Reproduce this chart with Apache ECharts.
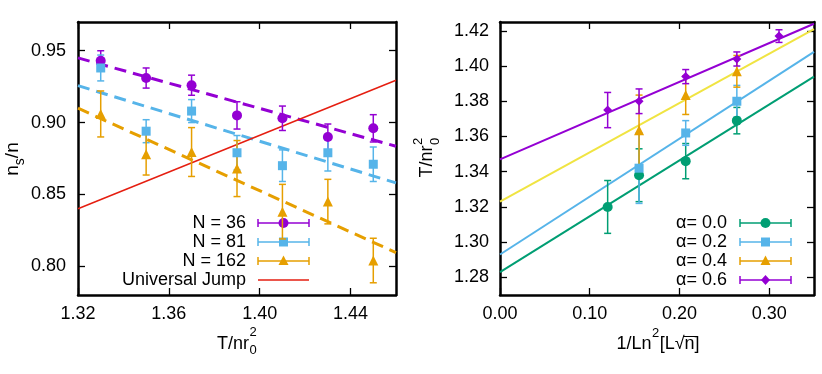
<!DOCTYPE html>
<html>
<head>
<meta charset="utf-8">
<script src="https://cdn.jsdelivr.net/npm/echarts@6/dist/echarts.min.js"></script>
<style>
  html, body { margin: 0; padding: 0; background: #fff; }
  #chart { width: 822px; height: 374px; }
</style>
</head>
<body>
<div id="chart"></div>
<script>
// left panel: superfluid fraction vs temperature
var tempX = [1.33, 1.35, 1.37, 1.39, 1.41, 1.43, 1.45];
var ns36 = [0.943, 0.931, 0.926, 0.905, 0.903, 0.890, 0.896];
var err36 = [0.007, 0.007, 0.007, 0.0095, 0.0085, 0.009, 0.0095];
var ns81 = [0.938, 0.894, 0.908, 0.879, 0.870, 0.879, 0.871];
var err81 = [0.009, 0.008, 0.008, 0.012, 0.011, 0.0127, 0.012];
var ns162 = [0.906, 0.878, 0.8795, 0.868, 0.838, 0.845, 0.804];
var err162 = [0.016, 0.0145, 0.017, 0.0195, 0.019, 0.0155, 0.0155];
var fit36 = [[1.32, 0.945], [1.46, 0.8835]];
var fit81 = [[1.32, 0.9257], [1.46, 0.858]];
var fit162 = [[1.32, 0.910], [1.46, 0.8095]];
var jumpLine = [[1.32, 0.840], [1.46, 0.9295]];
var leftXTicks = [1.32, 1.36, 1.40, 1.44];
var leftYTicks = [0.80, 0.85, 0.90, 0.95];

// right panel: T_c(L) vs 1/ln^2(L sqrt n)
var invX00 = [0.12, 0.155, 0.207, 0.264];
var tc00 = [1.320, 1.338, 1.346, 1.369];
var ec00 = [0.015, 0.015, 0.010, 0.0075];
var invX02 = [0.155, 0.207, 0.264];
var tc02 = [1.342, 1.362, 1.380];
var ec02 = [0.02, 0.007, 0.009];
var invX04 = [0.155, 0.207, 0.264];
var tc04 = [1.3635, 1.3835, 1.397];
var ec04 = [0.02, 0.011, 0.009];
var invX06 = [0.12, 0.155, 0.207, 0.264, 0.311];
var tc06 = [1.375, 1.380, 1.394, 1.404, 1.417];
var ec06 = [0.010, 0.007, 0.004, 0.004, 0.0036];
var fitA00 = [[0, 1.283], [0.35, 1.394]];
var fitA02 = [[0, 1.293], [0.35, 1.408]];
var fitA04 = [[0, 1.323], [0.35, 1.421]];
var fitA06 = [[0, 1.347], [0.35, 1.424]];
var rightXTicks = [0.00, 0.10, 0.20, 0.30];
var rightYTicks = [1.28, 1.30, 1.32, 1.34, 1.36, 1.38, 1.40, 1.42];

var PURPLE = '#9400d3', BLUE = '#56b4e9', ORANGE = '#e69f00',
    GREEN = '#009e73', YELLOW = '#f0e442', RED = '#e51e10';
var FONT = '"Liberation Sans", Arial, sans-serif';

var ctx = document.createElement('canvas').getContext('2d');
function tw(s, size) {
  ctx.font = size + 'px ' + FONT;
  return ctx.measureText(s).width;
}

function axis(grid, pos, min, max, ticks, labels, margin) {
  return {
    type: 'value', gridIndex: grid, position: pos, min: min, max: max,
    splitLine: { show: false },
    axisLine: { show: true, onZero: false, lineStyle: { color: '#000', width: 2.5 } },
    axisTick: { show: true, inside: true, length: 7, customValues: ticks,
      lineStyle: { color: '#000', width: 1.3 } },
    axisLabel: { show: labels, customValues: ticks, margin: margin,
      color: '#000', fontSize: 18, fontFamily: FONT,
      formatter: function (v) { return v.toFixed(2); } }
  };
}

function points(xi, xs, ys, symbol, size, color) {
  return {
    type: 'scatter', xAxisIndex: xi, yAxisIndex: xi, z: 4,
    symbol: symbol, symbolSize: size,
    itemStyle: { color: color, opacity: 1 },
    data: xs.map(function (x, i) { return [x, ys[i]]; })
  };
}

function errorBars(xi, xs, ys, es, color) {
  return {
    type: 'custom', xAxisIndex: xi, yAxisIndex: xi, z: 3,
    encode: { x: 0, y: [1, 2] },
    data: xs.map(function (x, i) { return [x, ys[i] - es[i], ys[i] + es[i]]; }),
    renderItem: function (params, api) {
      var lo = api.coord([api.value(0), api.value(1)]);
      var hi = api.coord([api.value(0), api.value(2)]);
      var st = { stroke: color, lineWidth: 1.5 };
      return { type: 'group', children: [
        { type: 'line', shape: { x1: lo[0], y1: lo[1], x2: hi[0], y2: hi[1] }, style: st },
        { type: 'line', shape: { x1: lo[0] - 3.5, y1: lo[1], x2: lo[0] + 3.5, y2: lo[1] }, style: st },
        { type: 'line', shape: { x1: hi[0] - 3.5, y1: hi[1], x2: hi[0] + 3.5, y2: hi[1] }, style: st }
      ]};
    }
  };
}

function fitLine(xi, data, color, width, dashed) {
  return {
    type: 'line', xAxisIndex: xi, yAxisIndex: xi, z: 2,
    data: data, symbol: 'none', silent: true,
    lineStyle: { color: color, width: width, type: dashed ? [12, 7] : 'solid' }
  };
}

// legend rows drawn like gnuplot's errorbar key
function markerShape(shape, cx, cy, color) {
  var st = { fill: color };
  if (shape === 'circle') return { type: 'circle', shape: { cx: cx, cy: cy, r: 5 }, style: st };
  if (shape === 'rect') return { type: 'rect', shape: { x: cx - 4.5, y: cy - 4.5, width: 9, height: 9 }, style: st };
  if (shape === 'triangle') return { type: 'polygon', shape: { points: [[cx, cy - 5.5], [cx + 5, cy + 4], [cx - 5, cy + 4]] }, style: st };
  return { type: 'polygon', shape: { points: [[cx, cy - 5], [cx + 4.5, cy], [cx, cy + 5], [cx - 4.5, cy]] }, style: st };
}

function legendRow(textRight, x0, x1, y, label, color, shape) {
  var items = [{ type: 'text', x: textRight, y: y,
    style: { text: label, font: '18px ' + FONT, fill: '#000', align: 'right', verticalAlign: 'middle' } }];
  var st = { stroke: color, lineWidth: 1.5 };
  items.push({ type: 'line', shape: { x1: x0, y1: y, x2: x1, y2: y }, style: st });
  if (shape) {
    items.push({ type: 'line', shape: { x1: x0, y1: y - 4, x2: x0, y2: y + 4 }, style: st });
    items.push({ type: 'line', shape: { x1: x1, y1: y - 4, x2: x1, y2: y + 4 }, style: st });
    items.push(markerShape(shape, (x0 + x1) / 2, y, color));
  }
  return items;
}

var graphics = [];
var rowsY = [223, 242, 261, 280];
[['N = 36', PURPLE, 'circle'], ['N = 81', BLUE, 'rect'], ['N = 162', ORANGE, 'triangle'],
 ['Universal Jump', RED, null]].forEach(function (r, i) {
  graphics = graphics.concat(legendRow(246, 258, 309, rowsY[i], r[0], r[1], r[2]));
});
[['\u03b1= 0.0', GREEN, 'circle'], ['\u03b1= 0.2', BLUE, 'rect'], ['\u03b1= 0.4', ORANGE, 'triangle'],
 ['\u03b1= 0.6', PURPLE, 'diamond']].forEach(function (r, i) {
  graphics = graphics.concat(legendRow(727, 740, 791, rowsY[i], r[0], r[1], r[2]));
});

function txt(x, y, s, size, align) {
  return { type: 'text', x: x, y: y,
    style: { text: s, font: size + 'px ' + FONT, fill: '#000', align: align || 'left', verticalAlign: 'middle' } };
}

// left x name: T/nr_0^2
(function () {
  var w = tw('T/nr', 18) + tw('2', 13);
  var x0 = 236.5 - w / 2;
  var xs = x0 + tw('T/nr', 18) + 0.5;
  graphics.push(txt(x0, 344, 'T/nr', 18), txt(xs, 332, '2', 13), txt(xs, 350, '0', 13));
})();

// left y name: n_s/n (rotated)
(function () {
  var w = tw('n', 19) + tw('s', 14) + tw('/n', 19);
  var children = [txt(0, 0, 'n', 19), txt(tw('n', 19), 7, 's', 14),
    txt(tw('n', 19) + tw('s', 14), 0, '/n', 19)];
  graphics.push({ type: 'group', x: 13, y: 159 + w / 2, rotation: Math.PI / 2, children: children });
})();

// right y name: T/nr_0^2 (rotated)
(function () {
  var wm = tw('T/nr', 18);
  var w = wm + tw('2', 13);
  var children = [txt(0, 0, 'T/nr', 18), txt(wm + 0.5, -9, '2', 13), txt(wm + 0.5, 8, '0', 13)];
  graphics.push({ type: 'group', x: 427, y: 158 + w / 2, rotation: Math.PI / 2, children: children });
})();

// right x name: 1/Ln^2[L sqrt(n)]
(function () {
  var a = '1/Ln', b = '2', c = '[L\u221a', d = 'n', e = ']';
  var wa = tw(a, 18), wb = tw(b, 13), wc = tw(c, 18), wd = tw(d, 18), we = tw(e, 18);
  var x = 657.5 - (wa + wb + wc + wd + we) / 2;
  graphics.push(txt(x, 344, a, 18));
  graphics.push(txt(x + wa + 0.5, 333, b, 13));
  var xc = x + wa + wb + 1;
  graphics.push(txt(xc, 344, c, 18));
  graphics.push(txt(xc + wc, 344, d, 18));
  graphics.push({ type: 'line', shape: { x1: xc + wc - 1, y1: 336.5, x2: xc + wc + wd + 0.5, y2: 336.5 },
    style: { stroke: '#000', lineWidth: 1 } });
  graphics.push(txt(xc + wc + wd, 344, e, 18));
})();

var chart = echarts.init(document.getElementById('chart'), null, { renderer: 'canvas' });
chart.setOption({
  animation: false,
  backgroundColor: '#fff',
  grid: [
    { left: 78, top: 22, width: 318, height: 273 },
    { left: 500, top: 22, width: 314, height: 273 }
  ],
  xAxis: [
    axis(0, 'bottom', 1.32, 1.46, leftXTicks, true, 10),
    axis(1, 'bottom', 0, 0.35, rightXTicks, true, 10),
    axis(0, 'top', 1.32, 1.46, leftXTicks, false, 10),
    axis(1, 'top', 0, 0.35, rightXTicks, false, 10)
  ],
  yAxis: [
    axis(0, 'left', 0.78, 0.97, leftYTicks, true, 12),
    axis(1, 'left', 1.27, 1.425, rightYTicks, true, 11),
    axis(0, 'right', 0.78, 0.97, leftYTicks, false, 10),
    axis(1, 'right', 1.27, 1.425, rightYTicks, false, 10)
  ],
  series: [
    fitLine(0, fit36, PURPLE, 3, true),
    fitLine(0, fit81, BLUE, 3, true),
    fitLine(0, fit162, ORANGE, 3, true),
    fitLine(0, jumpLine, RED, 1.5, false),
    errorBars(0, tempX, ns36, err36, PURPLE),
    points(0, tempX, ns36, 'circle', 10, PURPLE),
    errorBars(0, tempX, ns81, err81, BLUE),
    points(0, tempX, ns81, 'rect', 9, BLUE),
    errorBars(0, tempX, ns162, err162, ORANGE),
    points(0, tempX, ns162, 'triangle', 10, ORANGE),

    fitLine(1, fitA00, GREEN, 2, false),
    fitLine(1, fitA02, BLUE, 2, false),
    fitLine(1, fitA04, YELLOW, 2, false),
    fitLine(1, fitA06, PURPLE, 2, false),
    errorBars(1, invX00, tc00, ec00, GREEN),
    points(1, invX00, tc00, 'circle', 10, GREEN),
    errorBars(1, invX02, tc02, ec02, BLUE),
    points(1, invX02, tc02, 'rect', 9, BLUE),
    errorBars(1, invX04, tc04, ec04, ORANGE),
    points(1, invX04, tc04, 'triangle', 10, ORANGE),
    errorBars(1, invX06, tc06, ec06, PURPLE),
    points(1, invX06, tc06, 'diamond', 9, PURPLE)
  ],
  graphic: graphics
});
</script>
</body>
</html>
